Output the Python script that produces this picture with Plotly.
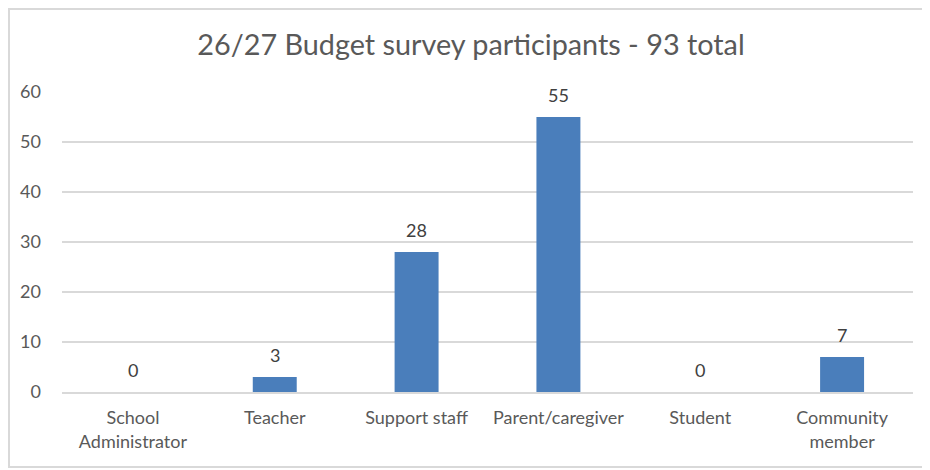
import plotly.graph_objects as go

categories = ["School<br>Administrator", "Teacher", "Support staff",
              "Parent/caregiver", "Student", "Community<br>member"]
values = [0, 3, 28, 55, 0, 7]
y_ticks = [0, 10, 20, 30, 40, 50, 60]
title_text = "26/27 Budget survey participants - 93 total"

BAR = "#4A7EBB"
TXT = "#595959"
GRID = "#D9D9D9"
FONT = "Lato, 'Open Sans', sans-serif"

# page body has an 8px default margin; figure sized to fit the window
W, H = 922, 462
L, R, T, B = 54, 17, 84, 78
PW, PH = W - L - R, H - T - B

fig = go.Figure()
fig.add_trace(go.Bar(
    x=categories, y=values, marker_color=BAR, marker_line_width=0,
    width=0.31, hoverinfo="skip",
))

for c, v in zip(categories, values):
    fig.add_annotation(x=c, y=v, text=str(v), showarrow=False,
                       yanchor="bottom", yshift=9,
                       font=dict(size=18, color="#404040", family=FONT))

fig.update_layout(
    width=W, height=H,
    margin=dict(l=L, r=R, t=T, b=B),
    paper_bgcolor="white", plot_bgcolor="white",
    showlegend=False,
    title=dict(text=title_text, x=463 / W, xanchor="center", xref="container",
               y=1 - 37 / H, yanchor="middle",
               font=dict(size=28.8, color=TXT, family=FONT)),
    font=dict(family=FONT, color=TXT, size=18),
    xaxis=dict(showgrid=False, showline=True, linecolor=GRID, linewidth=1.5,
               ticks="", tickfont=dict(size=18, color=TXT), ticklabelstandoff=9,
               fixedrange=True),
    yaxis=dict(range=[0, 60], tickvals=y_ticks, showgrid=True, gridcolor=GRID,
               gridwidth=1.5, zeroline=False, showline=False, ticks="",
               tickfont=dict(size=18, color=TXT), ticklabelstandoff=20,
               fixedrange=True),
    shapes=[dict(type="rect", xref="paper", yref="paper",
                 x0=(1 - L) / PW, x1=(918 - L) / PW,
                 y0=(T + PH - 459) / PH, y1=(T + PH - 1) / PH,
                 line=dict(color=GRID, width=2), fillcolor="rgba(0,0,0,0)",
                 layer="below")],
)

fig.write_html("out.html")
